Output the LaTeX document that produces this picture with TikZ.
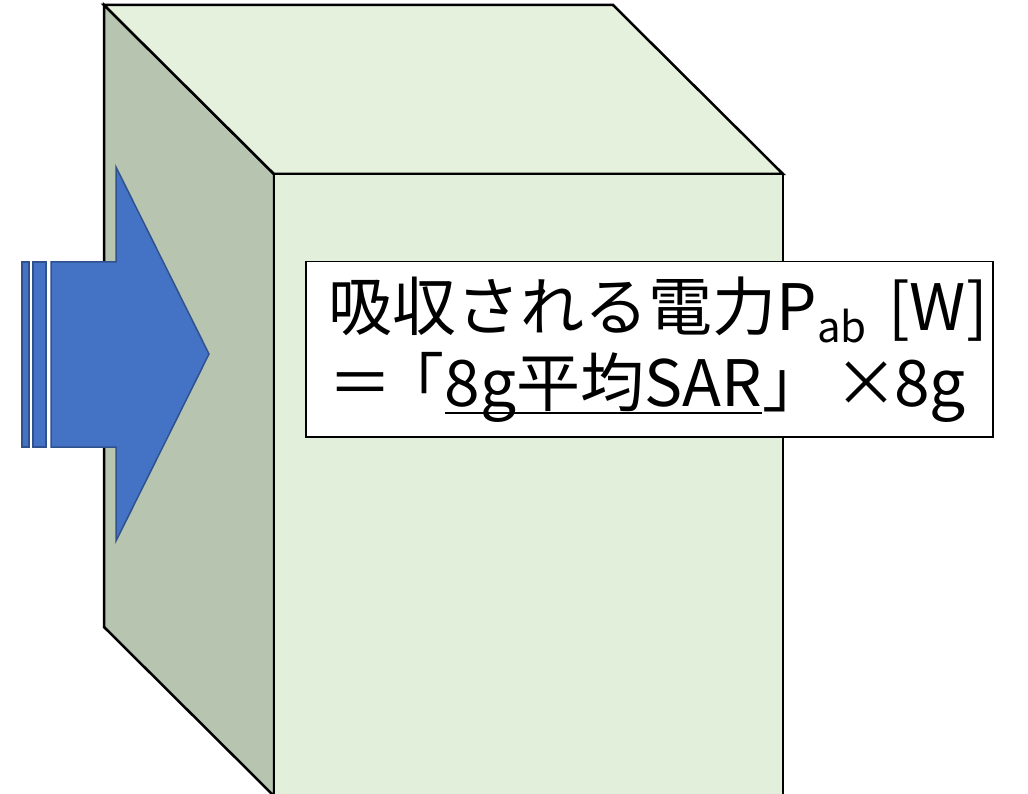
\documentclass[tikz,border=0pt]{standalone}
\usepackage{fontspec}
\setmainfont{Noto Sans CJK JP}
\definecolor{sideface}{RGB}{183,196,175}
\definecolor{topface}{RGB}{229,240,221}
\definecolor{frontface}{RGB}{226,239,218}
\definecolor{arrowfill}{RGB}{68,114,196}
\definecolor{arrowline}{RGB}{47,82,143}
\newcommand{\myul}[1]{\setbox0\hbox{#1}\rlap{\rule[-8pt]{\wd0}{2pt}}\box0}
\begin{document}
\begin{tikzpicture}[x=1pt,y=-1pt,line join=miter,
  face/.style={draw=black,line width=2.5pt},
  arrowpart/.style={fill=arrowfill,draw=arrowline,line width=1.5pt},
  labelbox/.style={draw=black,line width=1.5pt,fill=white,minimum width=687pt,minimum height=175pt,
    text width=641pt,inner xsep=23pt,align=left,anchor=north west,
    font=\fontsize{64}{76}\selectfont}]
\useasboundingbox (0,0) rectangle (1028,794);
\clip (0,0) rectangle (1028,794);
% left face
\path[face,fill=sideface] (104,5) -- (274,174) -- (274,796) -- (104,627) -- cycle;
% top face
\path[face,fill=topface] (104,5) -- (613,5) -- (783,174) -- (274,174) -- cycle;
% front face
\path[face,fill=frontface] (274,820) -- (274,174) -- (783,174) -- (783,820);
% arrow
\path[arrowpart] (51,262) -- (116,262) -- (116,167) -- (209,354) -- (116,541) -- (116,447) -- (51,447) -- cycle;
\path[arrowpart] (22,262) rectangle (29,447);
\path[arrowpart] (33,262) rectangle (46,447);
% label
\node[labelbox] (box) at (305,261) {\mbox{吸収される電力P\raisebox{-12pt}{\fontsize{42}{42}\selectfont ab} [W]}\\\mbox{＝\kern-12pt「\myul{8g平均SAR}」\kern8pt×\kern-4pt 8g}};
\end{tikzpicture}
\end{document}
